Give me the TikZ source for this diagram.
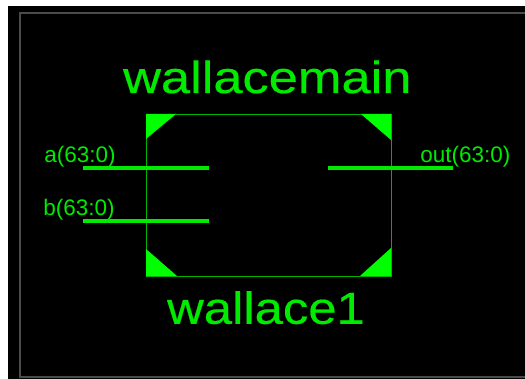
\documentclass[tikz,border=0pt]{standalone}
\usepackage{fontspec}
\setmainfont{Liberation Sans}
\definecolor{schgreen}{RGB}{0,235,0}
\definecolor{framegray}{RGB}{75,75,75}
\tikzset{
    pinline/.style={schgreen, line width=2.2pt},
    corner/.style={fill=green, draw=none},
    bigname/.style={text=schgreen, anchor=base west, inner sep=0pt, transform shape},
    pinname/.style={text=schgreen, anchor=base west, inner sep=0pt, font=\fontsize{16}{18}\selectfont},
}

\begin{document}
\begin{tikzpicture}
    \useasboundingbox (0,0) rectangle (13.125,9.475);
    \fill [white] (0,0) rectangle (13.125,9.475);
    \fill [black] (0.2,0) rectangle (13.125,9.325);
    \draw [framegray, line width=0.9pt] (13.125,9.15) -- (0.5,9.15) -- (0.5,0.05) -- (13.125,0.05);
    % symbol outline and corners
    \draw [green!70!black, line width=0.7pt] (3.65,2.575) rectangle (9.775,6.625);
    \fill [corner] (3.65,6.625) -- (4.4,6.625) -- (3.65,6) -- cycle;
    \fill [corner] (9.775,6.625) -- (9.025,6.625) -- (9.775,5.975) -- cycle;
    \fill [corner] (3.65,2.575) -- (4.425,2.575) -- (3.65,3.25) -- cycle;
    \fill [corner] (9.775,2.575) -- (9,2.575) -- (9.775,3.275) -- cycle;
    % names
    \node [bigname, xscale=1.165, font=\fontsize{32}{36}\selectfont\addfontfeature{FakeBold=0.4}] (topname) at (3.07,7.15) {wallacemain};
    \node [bigname, xscale=1.13, font=\fontsize{32}{36}\selectfont\addfontfeature{FakeBold=0.4}] (instname) at (4.17,1.38) {wallace1};
    % pins
    \coordinate (ain) at (2.075,5.275);
    \coordinate (aend) at (5.225,5.275);
    \coordinate (bin) at (2.075,3.95);
    \coordinate (bend) at (5.225,3.95);
    \coordinate (outstart) at (8.2,5.275);
    \coordinate (outend) at (11.325,5.275);
    \draw [pinline] (ain) -- (aend);
    \draw [pinline] (bin) -- (bend);
    \draw [pinline] (outstart) -- (outend);
    \node [pinname] (alabel) at (1.1,5.4) {a(63:0)};
    \node [pinname] (blabel) at (1.075,4.075) {b(63:0)};
    \node [pinname] (outlabel) at (10.5,5.4) {out(63:0)};
\end{tikzpicture}
\end{document}
